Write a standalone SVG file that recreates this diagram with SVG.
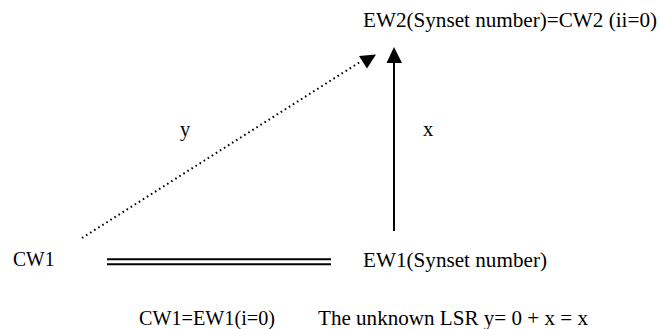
<svg xmlns="http://www.w3.org/2000/svg" width="659" height="329" viewBox="0 0 659 329">
<style>
text{font-family:"Liberation Serif","Times New Roman",serif;font-size:20.5px;fill:#000}
.ln{stroke:#000;stroke-width:2;fill:none}
.dot{stroke:#000;stroke-width:2;fill:none;stroke-dasharray:1.6 3.2}
.head{fill:#000;stroke:none}
</style>
<rect width="659" height="329" fill="#fff"/>
<g id="connectors">
<line class="dot" x1="82" y1="238" x2="360" y2="62"/>
<polygon class="head" points="359,56 376,54.5 367,68.5"/>
<line class="ln" x1="394" y1="231" x2="394" y2="62"/>
<polygon class="head" points="386.5,63 402,63 394,47"/>
<line class="ln" x1="107" y1="259.3" x2="331" y2="259.3"/>
<line class="ln" x1="107" y1="264.3" x2="331" y2="264.3"/>
</g>
<g id="ew2"><text x="363" y="27" textLength="294" lengthAdjust="spacingAndGlyphs">EW2(Synset number)=CW2 (ii=0)</text></g>
<g id="label-y"><text x="180" y="136">y</text></g>
<g id="label-x"><text x="423" y="136">x</text></g>
<g id="cw1"><text x="13" y="266" textLength="41.5" lengthAdjust="spacingAndGlyphs">CW1</text></g>
<g id="ew1"><text x="363" y="267" textLength="184" lengthAdjust="spacingAndGlyphs">EW1(Synset number)</text></g>
<g id="eq1"><text x="139" y="325" textLength="136" lengthAdjust="spacingAndGlyphs">CW1=EW1(i=0)</text></g>
<g id="lsr"><text x="318" y="325" textLength="270" lengthAdjust="spacingAndGlyphs">The unknown LSR y= 0 + x = x</text></g>
</svg>
